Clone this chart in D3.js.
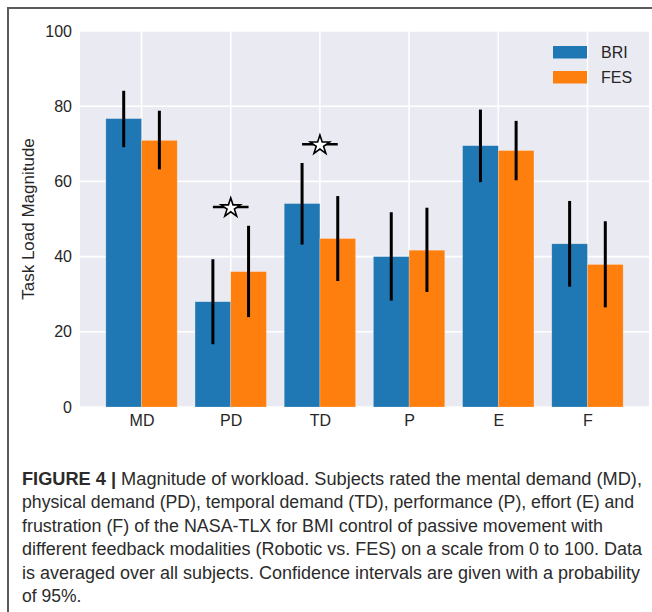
<!DOCTYPE html>
<html>
<head>
<meta charset="utf-8">
<script src="https://cdn.jsdelivr.net/npm/d3@7"></script>
<style>
  html, body { margin: 0; padding: 0; background: #fff; }
  svg { display: block; }
</style>
</head>
<body>
<svg id="chart" width="652" height="612"></svg>
<script>
var categories = ['MD', 'PD', 'TD', 'P', 'E', 'F'];
var seriesNames = ['BRI', 'FES'];
var briValues = [76.7, 28.0, 54.1, 40.0, 69.5, 43.4];
var briLow = [69.1, 16.7, 43.2, 28.3, 59.8, 32.0];
var briHigh = [84.1, 39.3, 64.9, 51.8, 79.1, 54.8];
var fesValues = [70.9, 36.0, 44.8, 41.7, 68.2, 37.9];
var fesLow = [63.2, 23.9, 33.5, 30.6, 60.3, 26.5];
var fesHigh = [78.8, 48.2, 56.1, 53.0, 76.1, 49.4];
var yTicks = [0, 20, 40, 60, 80, 100];
var sigCategories = ['PD', 'TD'];
var sigValues = [53.2, 69.9];
var captionLines = [
  'Magnitude of workload. Subjects rated the mental demand (MD),',
  'physical demand (PD), temporal demand (TD), performance (P), effort (E) and',
  'frustration (F) of the NASA-TLX for BMI control of passive movement with',
  'different feedback modalities (Robotic vs. FES) on a scale from 0 to 100. Data',
  'is averaged over all subjects. Confidence intervals are given with a probability',
  'of 95%.'
];

(function () {
  'use strict';

  var colors = ['#1f77b4', '#ff7f0e'];
  var barWidth = 0.4;
  var plot = {left: 80, right: 649, top: 31, bottom: 407};

  var svg = d3.select('#chart');

  var x = d3.scaleLinear().domain([-0.69, categories.length - 1 + 0.69]).range([plot.left, plot.right]);
  var y = d3.scaleLinear().domain([0, 100]).range([plot.bottom, plot.top]);

  // page frame (left + top rule)
  svg.append('path')
    .attr('d', 'M8,612V8H652')
    .attr('fill', 'none')
    .attr('stroke', '#5a5a5a')
    .attr('stroke-width', 2);

  svg.append('rect')
    .attr('x', plot.left)
    .attr('y', plot.top)
    .attr('width', plot.right - plot.left)
    .attr('height', plot.bottom - plot.top)
    .attr('fill', '#eaeaf2');

  // grid
  var grid = svg.append('g').attr('stroke', '#fff').attr('stroke-width', 1.6);
  grid.selectAll('.hgrid').data(yTicks).enter().append('line')
    .attr('x1', plot.left).attr('x2', plot.right)
    .attr('y1', function (d) { return y(d); })
    .attr('y2', function (d) { return y(d); });
  grid.selectAll('.vgrid').data(categories).enter().append('line')
    .attr('y1', plot.top).attr('y2', plot.bottom)
    .attr('x1', function (d, i) { return x(i); })
    .attr('x2', function (d, i) { return x(i); });

  var series = [
    {name: seriesNames[0], values: briValues, low: briLow, high: briHigh, offset: -barWidth},
    {name: seriesNames[1], values: fesValues, low: fesLow, high: fesHigh, offset: 0}
  ];

  series.forEach(function (s, si) {
    var g = svg.append('g');
    g.selectAll('rect').data(s.values).enter().append('rect')
      .attr('x', function (d, i) { return x(i + s.offset); })
      .attr('width', x(barWidth) - x(0))
      .attr('y', function (d) { return y(d); })
      .attr('height', function (d) { return y(0) - y(d); })
      .attr('fill', colors[si])
      .attr('stroke', '#fff')
      .attr('stroke-opacity', 0.35)
      .attr('stroke-width', 0.6);

    g.selectAll('line').data(s.values).enter().append('line')
      .attr('x1', function (d, i) { return x(i + s.offset + barWidth / 2); })
      .attr('x2', function (d, i) { return x(i + s.offset + barWidth / 2); })
      .attr('y1', function (d, i) { return y(s.low[i]); })
      .attr('y2', function (d, i) { return y(s.high[i]); })
      .attr('stroke', '#000')
      .attr('stroke-width', 3);
  });

  // significance markers: line between bar centres with an open star
  var star = d3.symbol().type(d3.symbolStar).size(115);
  sigCategories.forEach(function (c, k) {
    var i = categories.indexOf(c);
    var cy = y(sigValues[k]);
    svg.append('line')
      .attr('x1', x(i - barWidth / 2)).attr('x2', x(i + barWidth / 2))
      .attr('y1', cy).attr('y2', cy)
      .attr('stroke', '#000')
      .attr('stroke-width', 2.5);
    svg.append('path')
      .attr('d', star())
      .attr('transform', 'translate(' + x(i) + ',' + (cy + 1) + ')')
      .attr('fill', '#fff')
      .attr('stroke', '#000')
      .attr('stroke-width', 1.6);
  });

  var font = '"Liberation Sans", Arial, sans-serif';

  // axes (labels only, no ticks or domain line)
  var yAxis = svg.append('g')
    .attr('transform', 'translate(' + plot.left + ',0)')
    .call(d3.axisLeft(y).tickValues(yTicks).tickSize(0).tickPadding(8));
  yAxis.select('.domain').remove();
  yAxis.selectAll('text')
    .attr('font-family', font).attr('font-size', 16).attr('fill', '#262626');

  var xAxis = svg.append('g')
    .attr('transform', 'translate(0,' + plot.bottom + ')')
    .call(d3.axisBottom(x).tickValues(d3.range(categories.length))
      .tickFormat(function (d) { return categories[d]; })
      .tickSize(0).tickPadding(8));
  xAxis.select('.domain').remove();
  xAxis.selectAll('text')
    .attr('font-family', font).attr('font-size', 16).attr('fill', '#262626');

  svg.append('text')
    .attr('transform', 'translate(34,219) rotate(-90)')
    .attr('text-anchor', 'middle')
    .attr('font-family', font)
    .attr('font-size', 17)
    .attr('fill', '#262626')
    .text('Task Load Magnitude');

  // legend
  var legend = svg.append('g');
  seriesNames.forEach(function (name, i) {
    legend.append('rect')
      .attr('x', 553).attr('y', 46 + i * 25)
      .attr('width', 34).attr('height', 12.5)
      .attr('fill', colors[i]);
    legend.append('text')
      .attr('x', 601).attr('y', 58.3 + i * 24.5)
      .attr('font-family', font).attr('font-size', 16)
      .attr('fill', '#262626')
      .text(name);
  });

  // caption
  var captionWidths = [620, 612, 581, 620, 618, null];
  var cap = svg.append('g')
    .attr('font-family', font)
    .attr('font-size', 17.5)
    .attr('fill', '#2b2b2b');
  captionLines.forEach(function (line, i) {
    var t = cap.append('text')
      .attr('x', 22)
      .attr('y', 485 + i * 23.4);
    if (captionWidths[i]) {
      t.attr('textLength', captionWidths[i]).attr('lengthAdjust', 'spacingAndGlyphs');
    }
    if (i === 0) {
      t.append('tspan').attr('font-weight', 'bold').text('FIGURE 4 | ');
    }
    t.append('tspan').text(line);
  });
}());
</script>
</body>
</html>
